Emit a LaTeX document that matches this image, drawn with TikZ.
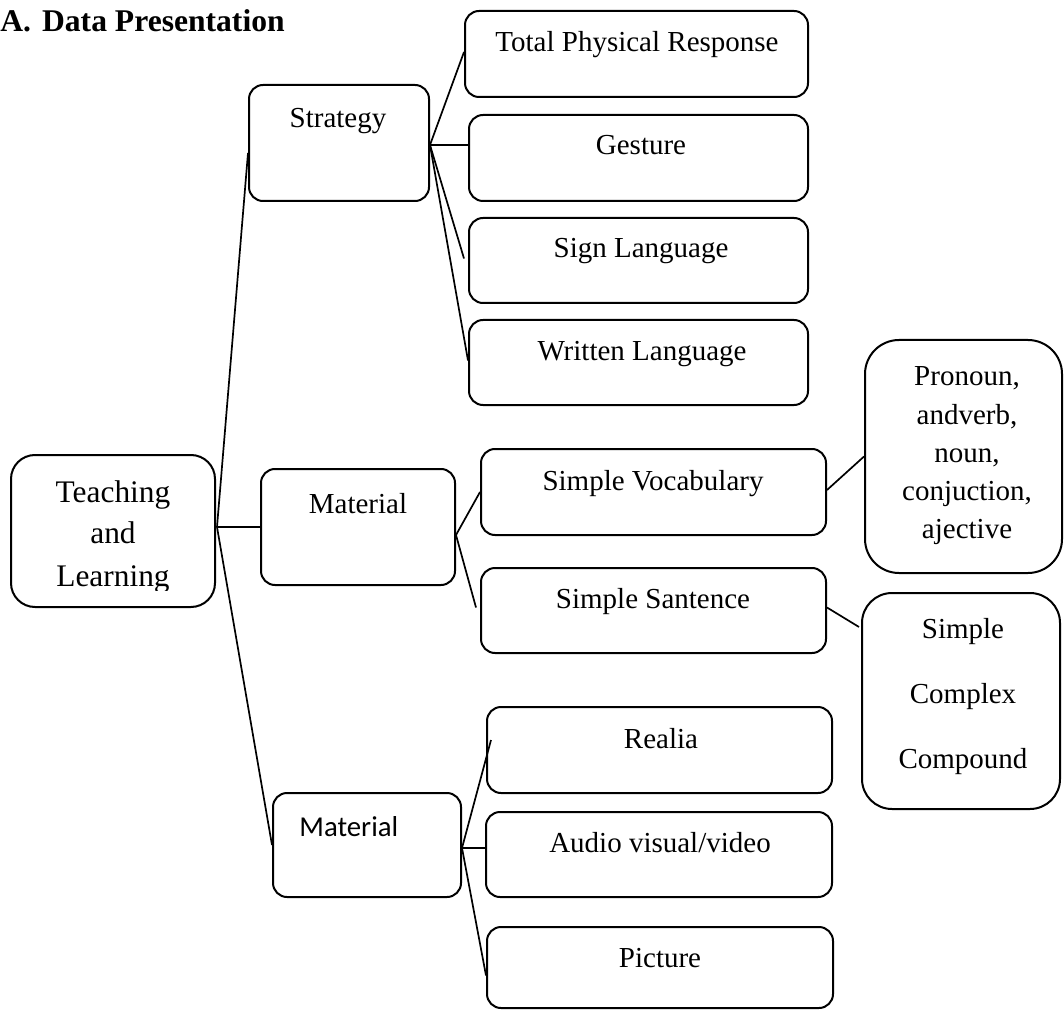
\documentclass[tikz,border=0pt]{standalone}
\usepackage{fontspec}
\setmainfont{Liberation Serif}
\newfontfamily\calibrifont{Carlito}
\usetikzlibrary{calc}
\begin{document}
\begin{tikzpicture}[x=0.5pt,y=-0.5pt,
  box/.style={draw, line width=1pt, rounded corners=7pt, inner sep=0pt},
  txt/.style={inner sep=0pt, anchor=base, font=\fontsize{14.5}{17}\selectfont},
  conn/.style={line width=0.85pt}]
\useasboundingbox (0,0) rectangle (1064,1010);

% title
\node[inner sep=0pt, anchor=base west, font=\fontsize{15.8}{19}\selectfont\bfseries] (title) at (0,32) {A.\hspace*{5.5pt}Data Presentation};

% boxes
\node[box, minimum width=90pt, minimum height=58pt] (strat) at (339,143) {};
\node[box, minimum width=171.5pt, minimum height=43pt] (tpr) at (636.5,54) {};
\node[box, minimum width=169.5pt, minimum height=43pt] (gest) at (638.5,158) {};
\node[box, minimum width=169.5pt, minimum height=42.5pt] (sign) at (638.5,260.5) {};
\node[box, minimum width=169.5pt, minimum height=42.5pt] (writ) at (638.5,362.5) {};
\node[box, rounded corners=12pt, minimum width=102pt, minimum height=76pt] (teach) at (113,531) {};
\node[box, minimum width=97pt, minimum height=58pt] (mat1) at (358,527) {};
\node[box, minimum width=172.5pt, minimum height=43pt] (voc) at (653.5,492) {};
\node[box, minimum width=172.5pt, minimum height=42.5pt] (san) at (653.5,610.5) {};
\node[box, rounded corners=17pt, minimum width=98.5pt, minimum height=116.5pt] (pron) at (963.5,456.5) {};
\node[box, rounded corners=15pt, minimum width=99pt, minimum height=108pt] (scc) at (961,701) {};
\node[box, minimum width=172.5pt, minimum height=43pt] (realia) at (659.5,750) {};
\node[box, minimum width=94pt, minimum height=52pt] (mat2) at (367,845) {};
\node[box, minimum width=173pt, minimum height=42.5pt] (audio) at (659,854.5) {};
\node[box, minimum width=173pt, minimum height=40.5pt] (pic) at (660,967.5) {};

% texts
\node[txt] (tstrat) at (338,128) {Strategy};
\node[txt] (ttpr) at (637,52) {Total Physical Response};
\node[txt] (tgest) at (641,155) {Gesture};
\node[txt] (tsign) at (641,258) {Sign Language};
\node[txt] (twrit) at (642,360) {Written Language};
\node[txt] (tmat1) at (358,513) {Material};
\node[txt] (tvoc) at (653,490) {Simple Vocabulary};
\node[txt] (tsan) at (653,608) {Simple Santence};
\node[txt] (trealia) at (661,748) {Realia};
\node[txt] (taudio) at (660,852) {Audio visual/video};
\node[txt] (tpic) at (660,967) {Picture};
\node[txt, anchor=base west, font=\fontsize{14.4}{17}\calibrifont] (tmat2) at (299,836) {Material};

\node[txt] (tp1) at (967,386) {Pronoun,};
\node[txt] (tp2) at (967,424) {andverb,};
\node[txt] (tp3) at (967,462) {noun,};
\node[txt] (tp4) at (967,500) {conjuction,};
\node[txt] (tp5) at (967,538) {ajective};

\node[txt] (ts1) at (963,638) {Simple};
\node[txt] (ts2) at (963,703) {Complex};
\node[txt] (ts3) at (963,768) {Compound};

\node[txt, font=\fontsize{15.7}{21}\selectfont] (tt1) at (113,502) {Teaching};
\node[txt, font=\fontsize{15.7}{21}\selectfont] (tt2) at (113,543) {and};
\begin{scope}
\clip (0,0) rectangle (1064,590);
\node[txt, font=\fontsize{15.7}{21}\selectfont] (tt3) at (113,586) {Learning};
\end{scope}

% connectors
\coordinate (jT) at ($(teach.east)+(1,-4)$);
\draw[conn] (jT) -- ($(strat.west)+(0,10)$);
\draw[conn] (jT) -- (mat1.west |- jT);
\draw[conn] (jT) -- (mat2.west);

\coordinate (jS) at ($(strat.east)+(0,2)$);
\draw[conn] (jS) -- ($(tpr.west)+(0,-2)$);
\draw[conn] (jS) -- (gest.west |- jS);
\draw[conn] (jS) -- ($(sign.west)+(-4,-2)$);
\draw[conn] (jS) -- ($(writ.west)+(0,-2)$);

\coordinate (jM) at ($(mat1.east)+(0,8)$);
\draw[conn] (jM) -- (voc.west);
\draw[conn] (jM) -- ($(san.west)+(-4,-3)$);
\draw[conn] ($(voc.east)+(0,-2)$) -- (pron.west);
\draw[conn] ($(san.east)+(0,-3)$) -- ($(scc.west)+(-2,-74)$);

\coordinate (jB) at ($(mat2.east)+(0,3)$);
\draw[conn] (jB) -- ($(realia.west)+(5,-10)$);
\draw[conn] (jB) -- (audio.west |- jB);
\draw[conn] (jB) -- ($(pic.west)+(0,8)$);
\end{tikzpicture}
\end{document}
